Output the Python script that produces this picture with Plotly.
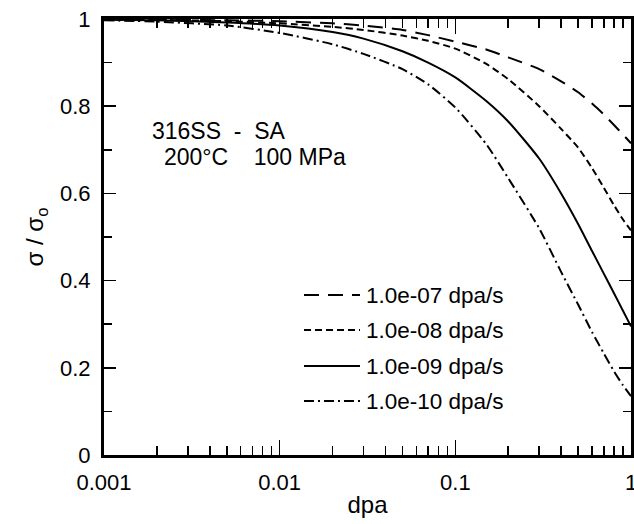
import plotly.graph_objects as go

# ---- data ----
dpa = [0.001, 0.002, 0.005, 0.01, 0.02, 0.03, 0.05, 0.07, 0.1, 0.15, 0.2,
       0.3, 0.4, 0.5, 0.6, 0.7, 0.8, 0.9, 1.0]
ratio_1e07 = [1.0, 0.999, 0.997, 0.995, 0.99, 0.985, 0.975, 0.963, 0.948, 0.93, 0.912,
              0.885, 0.857, 0.832, 0.806, 0.781, 0.757, 0.735, 0.715]
ratio_1e08 = [0.999, 0.998, 0.995, 0.99, 0.982, 0.975, 0.962, 0.950, 0.932, 0.897, 0.862,
              0.80, 0.748, 0.705, 0.658, 0.613, 0.573, 0.540, 0.515]
ratio_1e09 = [0.998, 0.997, 0.992, 0.985, 0.97, 0.955, 0.926, 0.90, 0.866, 0.812, 0.765,
              0.68, 0.60, 0.53, 0.468, 0.416, 0.371, 0.331, 0.295]
ratio_1e10 = [0.997, 0.994, 0.985, 0.968, 0.942, 0.92, 0.885, 0.85, 0.797, 0.713, 0.635,
              0.52, 0.42, 0.345, 0.282, 0.233, 0.192, 0.16, 0.135]

series = [ratio_1e07, ratio_1e08, ratio_1e09, ratio_1e10]
rate_labels = ["1.0e-07 dpa/s", "1.0e-08 dpa/s", "1.0e-09 dpa/s", "1.0e-10 dpa/s"]
dashes = ["15px,9px", "7px,4px", "solid", "10px,4px,2px,4px"]

x_ticks = [0.001, 0.01, 0.1, 1]
x_ticktext = ["0.001", "0.01", "0.1", "1"]
x_minor = [m * d for d in (0.001, 0.01, 0.1) for m in range(2, 10)]
y_ticks = [0, 0.2, 0.4, 0.6, 0.8, 1]
y_ticktext = ["0", "0.2", "0.4", "0.6", "0.8", "1"]

FONT = "Liberation Sans, Arial, Helvetica, sans-serif"

W, H = 634, 524
PL, PR, PT, PB = 104, 631, 19, 455   # plot-area edges in window pixels
ML, MT, MR, MB = PL, PT, W - PR, H - PB
PW, PH = PR - PL, PB - PT


def px(xw):
    return (xw - PL) / PW


def py(yw):
    return (PB - yw) / PH


fig = go.Figure()
for vals, lab, dsh in zip(series, rate_labels, dashes):
    fig.add_trace(go.Scatter(
        x=dpa, y=vals, mode="lines", name=lab, showlegend=False,
        line=dict(color="black", width=2, dash=dsh, shape="spline", smoothing=0.6),
    ))

# hand-made legend (line sample + label), as in the reference
leg_x0, leg_x1, leg_tx = 304, 360, 364
leg_rows = [295, 330, 366, 401]
for lab, dsh, yr in zip(rate_labels, dashes, leg_rows):
    fig.add_shape(type="line", xref="paper", yref="paper",
                  x0=px(leg_x0), x1=px(leg_x1), y0=py(yr), y1=py(yr),
                  line=dict(color="black", width=2, dash=dsh))
    fig.add_annotation(text=lab, xref="paper", yref="paper",
                       x=px(leg_tx), y=py(yr), xanchor="left", yanchor="middle",
                       showarrow=False, font=dict(size=22.5, color="black", family=FONT))

# condition text
fig.add_annotation(text="316SS&nbsp;&nbsp;-&nbsp;&nbsp;SA", xref="paper", yref="paper",
                   x=px(150), y=py(131), xanchor="left", yanchor="middle",
                   showarrow=False, font=dict(size=23, color="black", family=FONT))
fig.add_annotation(text="200°C&nbsp;&nbsp;&nbsp;&nbsp;100 MPa", xref="paper", yref="paper",
                   x=px(162), y=py(157), xanchor="left", yanchor="middle",
                   showarrow=False, font=dict(size=23, color="black", family=FONT))

fig.update_xaxes(
    type="log", range=[-3, 0], tickvals=x_ticks, ticktext=x_ticktext,
    ticks="inside", ticklen=15, tickwidth=1.5, tickcolor="black",
    minor=dict(tickvals=x_minor, ticks="inside", ticklen=9, tickwidth=1.5,
               tickcolor="black", showgrid=False),
    showline=True, linewidth=3, linecolor="black", mirror="ticks",
    showgrid=False, zeroline=False, automargin=False, ticklabeloverflow="allow",
    ticklabelstandoff=6,
    tickfont=dict(size=22, color="black", family=FONT),
    title=dict(text="dpa", font=dict(size=24, color="black", family=FONT), standoff=2),
)
fig.update_yaxes(
    range=[0, 1], tickvals=y_ticks, ticktext=y_ticktext,
    ticks="inside", ticklen=12, tickwidth=1.5, tickcolor="black",
    minor=dict(dtick=0.1, ticks="inside", ticklen=8, tickwidth=1.5,
               tickcolor="black", showgrid=False),
    showline=True, linewidth=3, linecolor="black", mirror="ticks",
    showgrid=False, zeroline=False, ticklabelstandoff=6, automargin=False,
    ticklabeloverflow="allow",
    tickfont=dict(size=22, color="black", family=FONT),
    title=dict(text="σ / σ<sub>o</sub>", font=dict(size=24, color="black", family=FONT),
               standoff=10),
)
fig.update_layout(
    width=W, height=H,
    margin=dict(l=ML, r=MR, t=MT, b=MB, autoexpand=False),
    paper_bgcolor="white", plot_bgcolor="white",
    font=dict(family=FONT, color="black"),
)
# remove the page's default 8px body margin so the figure fills the window exactly
fig.write_html("out.html",
               config={"displayModeBar": False, "staticPlot": True},
               post_script="document.body.style.margin='0px';"
                           "document.body.style.overflow='hidden';")
